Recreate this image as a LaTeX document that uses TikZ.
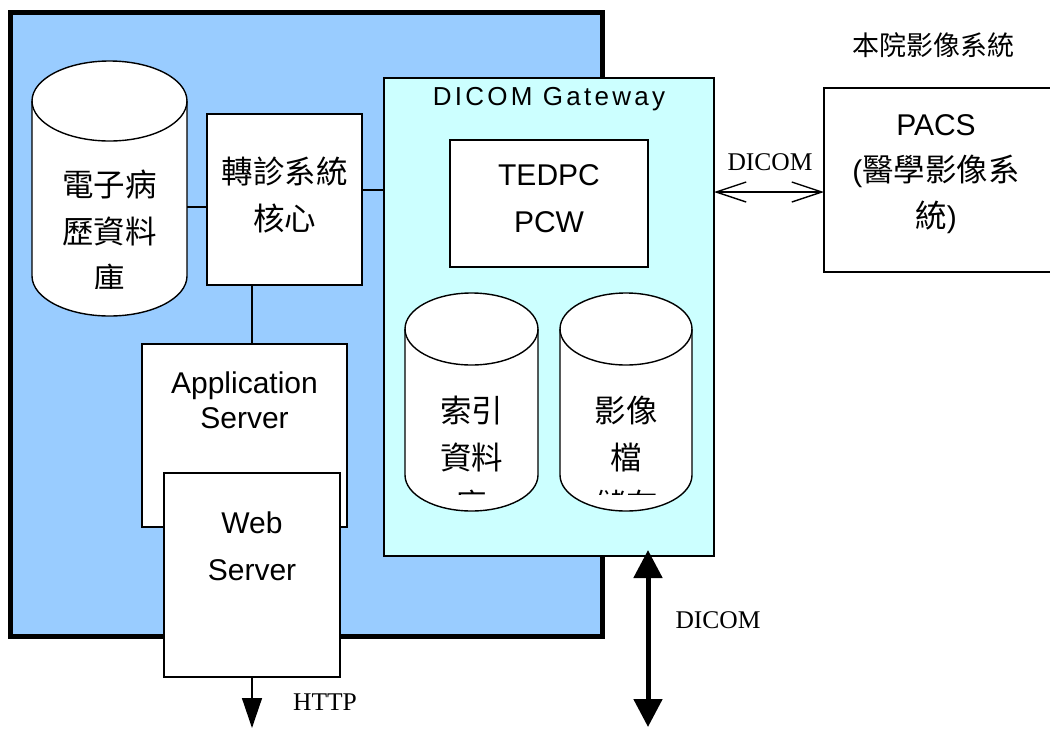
\documentclass[tikz,border=0pt]{standalone}
\usepackage{fontspec}
\setmainfont{Liberation Sans}
\newfontfamily\cjk{Noto Sans CJK TC}
\newfontfamily\serifl{Liberation Serif}
\usetikzlibrary{arrows.meta}
\definecolor{blueF}{HTML}{99CCFF}
\definecolor{cyanF}{HTML}{CCFFFF}
\tikzset{
  box/.style={draw, line width=1.4pt, fill=white, anchor=north west, inner sep=0pt, outer sep=0pt},
  cyl/.style={draw, line width=1.4pt, fill=white},
  cjktxt/.style={align=center, font=\cjk\fontsize{31.5}{47}\selectfont, inner sep=0pt},
  lattxt/.style={align=center, font=\fontsize{30}{47}\selectfont, inner sep=0pt},
  lbl/.style={font=\serifl\fontsize{25.5}{30}\selectfont, inner sep=0pt},
  conn/.style={line width=1.4pt},
}
\begin{document}
\begin{tikzpicture}[x=1pt,y=-1pt]
\useasboundingbox (0,0) rectangle (1050,729);
\clip (0,0) rectangle (1050,729);

% outer blue system
\node[box, line width=5pt, fill=blueF, minimum width=592pt, minimum height=624pt] (outer) at (10,12) {};

% cylinder 1
\draw[cyl] (32,101) -- (32,276) arc[start angle=180,end angle=360,x radius=77.5pt,y radius=40pt] -- (187,101) arc[start angle=0,end angle=180,x radius=77.5pt,y radius=40pt] -- cycle;
\draw[line width=1.4pt] (32,101) arc[start angle=180,end angle=360,x radius=77.5pt,y radius=40pt];
\node[minimum width=155pt, minimum height=215pt, inner sep=0pt, outer sep=0pt] (db1) at (109.5,208.5) {};
\begin{scope}
\clip (32,101) rectangle (187,288);
\node[cjktxt] (db1t) at (109.5,232) {電子病\\歷資料\\庫};
\end{scope}

% core box
\node[box, minimum width=155pt, minimum height=171pt] (core) at (207,114) {};
\node[cjktxt] (coret) at (284.5,195) {轉診系統\\核心};

% application server
\node[box, minimum width=205pt, minimum height=183pt] (app) at (142,344) {};
\node[lattxt, font=\fontsize{30}{35}\selectfont] (appt) at (244.5,400.5) {Application\\Server};

% web server
\node[box, minimum width=176pt, minimum height=204pt] (web) at (164,473) {};
\node[lattxt] (webt) at (252,546.5) {Web\\Server};

% DICOM gateway
\node[box, fill=cyanF, minimum width=330pt, minimum height=478pt] (gw) at (384,78) {};
\node[inner sep=0pt, font=\fontsize{26}{30}\selectfont\addfontfeature{LetterSpace=12.5}] (gwt) at (549,99) {DICOM Gateway};

\node[box, minimum width=198pt, minimum height=127pt] (tedpc) at (450,140) {};
\node[lattxt] (tedpct) at (549,198.5) {TEDPC\\PCW};

% cylinder 2
\draw[cyl] (405,329) -- (405,475) arc[start angle=180,end angle=360,x radius=66.5pt,y radius=36pt] -- (538,329) arc[start angle=0,end angle=180,x radius=66.5pt,y radius=36pt] -- cycle;
\draw[line width=1.4pt] (405,329) arc[start angle=180,end angle=360,x radius=66.5pt,y radius=36pt];
\begin{scope}
\clip (405,329) rectangle (538,494);
\node[cjktxt] (db2t) at (471.5,458) {索引\\資料\\庫};
\end{scope}

% cylinder 3
\draw[cyl] (560,329) -- (560,475) arc[start angle=180,end angle=360,x radius=66pt,y radius=36pt] -- (692,329) arc[start angle=0,end angle=180,x radius=66pt,y radius=36pt] -- cycle;
\draw[line width=1.4pt] (560,329) arc[start angle=180,end angle=360,x radius=66pt,y radius=36pt];
\begin{scope}
\clip (560,329) rectangle (692,494);
\node[cjktxt] (db3t) at (626,458) {影像\\檔\\儲存};
\end{scope}

% PACS
\node[box, minimum width=230pt, minimum height=184pt] (pacs) at (824,88) {};
\node[align=center, inner sep=0pt, font=\fontsize{30}{46}\selectfont] (pacst) at (936,174) {PACS\\{(}{\cjk\fontsize{31.5}{46}\selectfont 醫學影像系}\\{\cjk\fontsize{31.5}{46}\selectfont 統}{)}};
\node[inner sep=0pt, font=\cjk\fontsize{27}{30}\selectfont] (hosp) at (933,45) {本院影像系統};

% connectors
\draw[conn] ([yshift=-7.5pt]core.west) -- ([yshift=-7.5pt]core.west -| db1.east);
\draw[conn] ([yshift=9.5pt]core.east) -- ([yshift=9.5pt]core.east -| gw.west);
\draw[conn] (core.south -| web.north) -- (app.north -| web.north);

% DICOM horizontal
\draw[conn, {Straight Barb[length=30pt,width=20pt,line width=1.4pt]}-{Straight Barb[length=30pt,width=20pt,line width=1.4pt]}] ([yshift=-12pt]pacs.west -| gw.east) -- ([yshift=-12pt]pacs.west);
\node[lbl] (dicom1) at (770,162) {DICOM};

% HTTP arrow
\coordinate (httpEnd) at (252,728);
\draw[conn, -{Triangle[width=20pt,length=30pt]}] (web.south) -- (httpEnd);
\node[lbl] (http) at (325,702) {HTTP};

% DICOM vertical
\coordinate (dicomEnd) at (648,727);
\draw[line width=5pt, {Triangle[width=28pt,length=28pt]}-{Triangle[width=28pt,length=28pt]}] ([yshift=6pt]gw.south -| tedpc.east) -- (dicomEnd);
\node[lbl] (dicom2) at (718,620) {DICOM};
\end{tikzpicture}
\end{document}
